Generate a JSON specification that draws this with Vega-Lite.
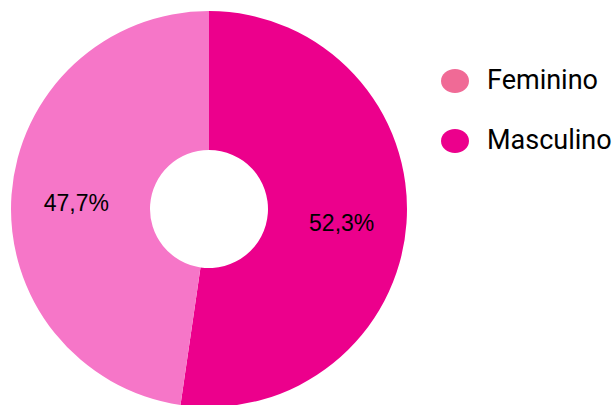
{
  "$schema": "https://vega.github.io/schema/vega-lite/v6.json",
  "width": 418,
  "height": 418,
  "padding": 0,
  "background": "white",
  "view": {"stroke": null},
  "data": {"values": [
    {"sexo": "Masculino", "pct": 52.3, "label": "52,3%", "ord": 1},
    {"sexo": "Feminino", "pct": 47.7, "label": "47,7%", "ord": 2}
  ]},
  "encoding": {
    "theta": {"field": "pct", "type": "quantitative", "stack": true},
    "order": {"field": "ord", "type": "quantitative"}
  },
  "resolve": {"scale": {"color": "independent"}, "legend": {"color": "independent"}},
  "layer": [
    {
      "mark": {"type": "arc", "outerRadius": 198, "innerRadius": 59},
      "encoding": {
        "color": {
          "field": "sexo", "type": "nominal",
          "scale": {"domain": ["Feminino", "Masculino"], "range": ["#F676C8", "#EC008C"]},
          "legend": null
        }
      }
    },
    {
      "mark": {"type": "arc", "outerRadius": 0, "innerRadius": 0},
      "encoding": {
        "color": {
          "field": "sexo", "type": "nominal",
          "scale": {"domain": ["Feminino", "Masculino"], "range": ["#F06A96", "#EC008C"]},
          "legend": {
            "title": null,
            "orient": "none",
            "legendX": 441,
            "legendY": 67,
            "symbolType": "M-1,0A1,0.857,0,1,1,1,0A1,0.857,0,1,1,-1,0Z",
            "symbolSize": 784,
            "symbolStrokeWidth": 0,
            "symbolOpacity": 1,
            "labelFont": "Roboto",
            "labelFontSize": 27,
            "labelColor": "#000000",
            "labelOffset": 18,
            "rowPadding": 33
          }
        }
      }
    },
    {
      "mark": {"type": "text", "radius": 133, "dy": 5, "font": "Liberation Sans", "fontSize": 23, "color": "#000000"},
      "encoding": {"text": {"field": "label"}}
    }
  ]
}
